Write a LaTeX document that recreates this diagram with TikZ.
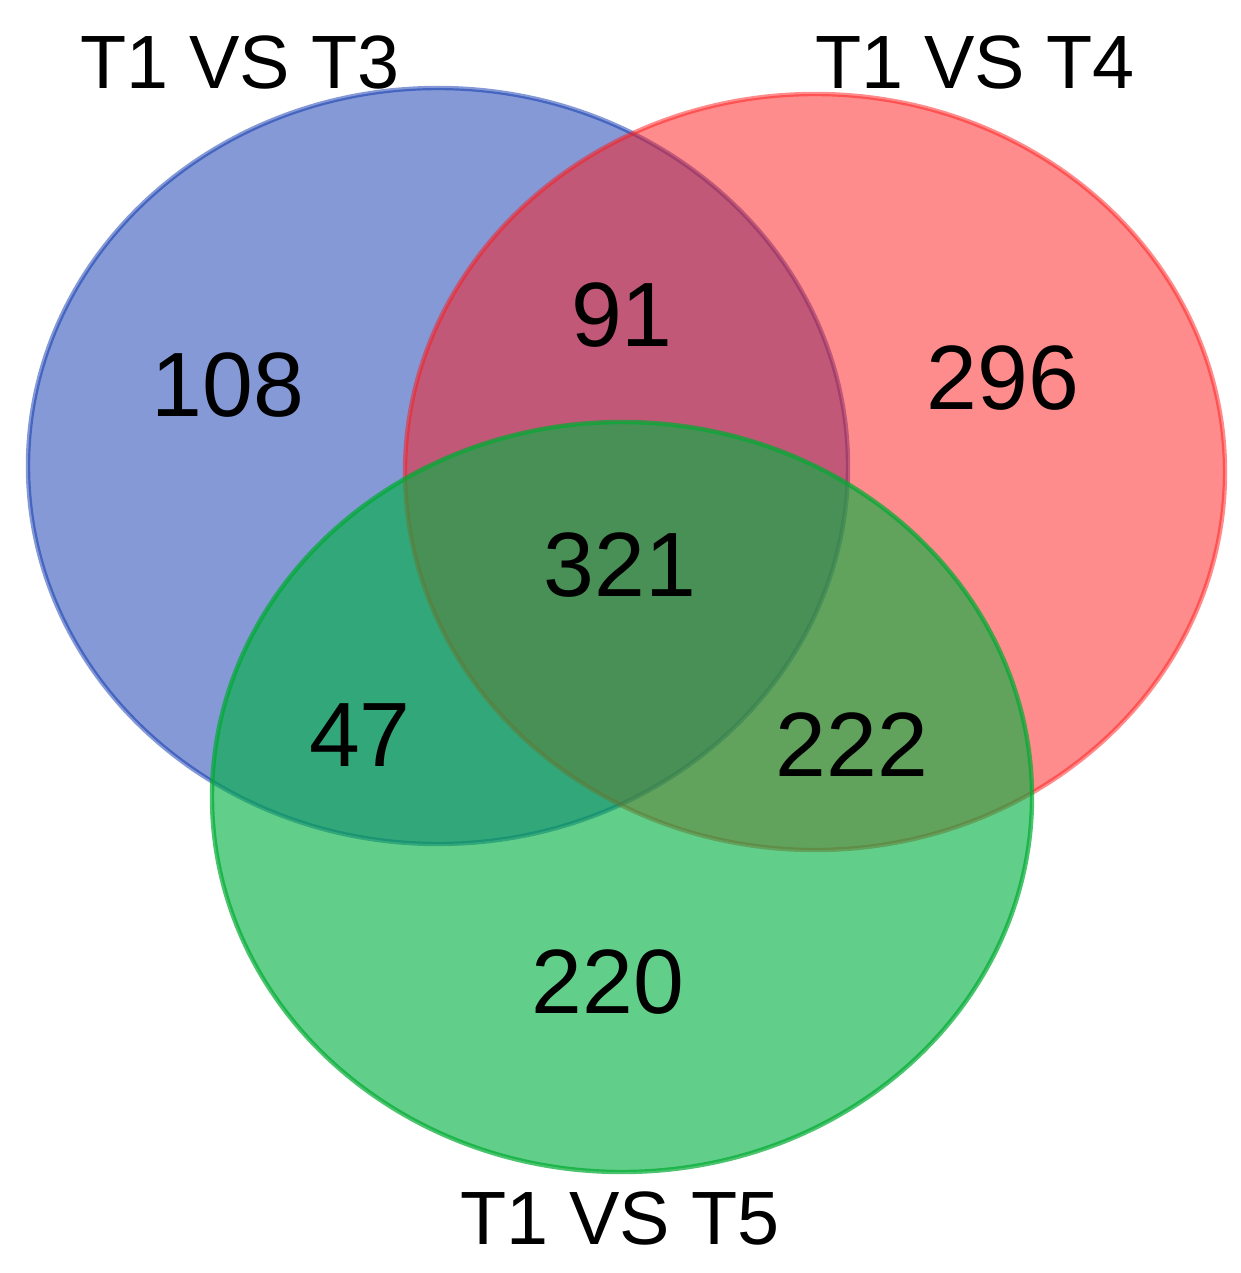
\documentclass[tikz,border=0pt]{standalone}
\usepackage{fontspec}
\setmainfont{Liberation Sans}
\begin{document}
\begin{tikzpicture}[x=0.02cm,y=-0.02cm,
  setA/.style={fill={rgb,255:red,9;green,51;blue,173},fill opacity=0.5,draw={rgb,255:red,9;green,51;blue,173},draw opacity=0.5,line width=2.5pt},
  setB/.style={fill={rgb,255:red,255;green,25;blue,25},fill opacity=0.5,draw={rgb,255:red,255;green,25;blue,25},draw opacity=0.5,line width=2.5pt},
  setC/.style={fill={rgb,255:red,0;green,178;blue,66},fill opacity=0.62,draw={rgb,255:red,0;green,170;blue,50},draw opacity=0.7,line width=2.5pt},
  num/.style={font=\fontsize{52}{60}\selectfont},
  lab/.style={font=\fontsize{43}{50}\selectfont}]
\useasboundingbox (0,0) rectangle (1240,1273);
\path[setA] (438,466) ellipse [x radius=410,y radius=378];
\path[setB] (815,472) ellipse [x radius=410,y radius=378];
\path[setC] (622,797) ellipse [x radius=410,y radius=375];
\node[lab] (la) at (240,62) {T1 VS T3};
\node[lab] (lb) at (975,62) {T1 VS T4};
\node[lab] (lc) at (620,1218) {T1 VS T5};
\node[num] (n1) at (228,385) {108};
\node[num] (n2) at (622,315) {91};
\node[num] (n3) at (1003,378) {296};
\node[num] (n4) at (620,565) {321};
\node[num] (n5) at (360,735) {47};
\node[num] (n6) at (852,745) {222};
\node[num] (n7) at (608,982) {220};
\end{tikzpicture}
\end{document}
